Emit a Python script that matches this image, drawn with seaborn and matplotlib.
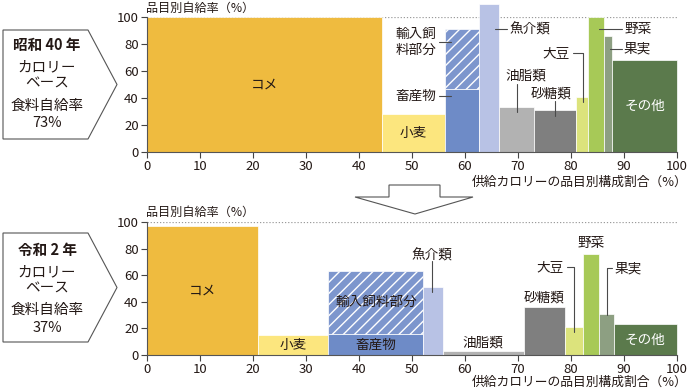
import numpy as np
import matplotlib
matplotlib.use("Agg")
import matplotlib.pyplot as plt
from matplotlib.patches import Polygon
import seaborn as sns

# ---------------- data ----------------
items = ['コメ', '小麦', '畜産物', '魚介類', '油脂類', '砂糖類', '大豆', '野菜', '果実', 'その他']

# share of supplied calories (%), bar widths
share_1965 = [44.3, 11.9, 6.4, 3.9, 6.6, 7.8, 2.4, 2.9, 1.6, 12.2]
# self-sufficiency by item (%), bar heights
rate_1965 = [100, 28, 47, 110, 33, 31, 41, 100, 86, 68]
livestock_total_1965 = 91  # incl. imported-feed part

share_2020 = [20.9, 13.3, 17.8, 3.8, 15.3, 7.7, 3.5, 2.9, 2.9, 11.9]
rate_2020 = [97, 15, 16, 51, 3, 36, 21, 76, 31, 23]
livestock_total_2020 = 63

colors = ['#EFBB3F', '#FCE67E', '#6E8BC7', '#B8C2E5', '#B2B2B2',
          '#7F7F7F', '#DCE37C', '#A7C957', '#8D9F82', '#5B7A4C']
feed_color = '#7D96CD'
txt = '#231815'
line_c = '#4a4a4a'

sns.set_theme(style="ticks")
plt.rcParams['font.family'] = ['Noto Sans CJK JP', 'DejaVu Sans']
plt.rcParams['hatch.linewidth'] = 1.0
plt.rcParams['hatch.color'] = 'white'

fig = plt.figure(figsize=(6.9, 3.91), dpi=100)
W, H = 690, 391


def draw_panel(ax, share, rate, livestock_total):
    left = np.concatenate([[0], np.cumsum(share)[:-1]])
    ax.axhline(100, color='#9a9a9a', ls=(0, (1, 1.5)), lw=0.9, zorder=0.5)
    ax.bar(left, rate, width=share, align='edge', color=colors,
           edgecolor='white', linewidth=0.5, zorder=2, clip_on=False)
    i = items.index('畜産物')
    ax.bar(left[i], livestock_total - rate[i], bottom=rate[i], width=share[i],
           align='edge', facecolor=feed_color, edgecolor='white', hatch='///',
           linewidth=0.5, zorder=2)
    ax.set_xlim(0, 100)
    ax.set_ylim(0, 100)
    ax.set_xticks(range(0, 101, 10))
    ax.set_yticks(range(0, 101, 20))
    ax.tick_params(labelsize=9.5, length=4, width=0.8, color='#444444',
                   labelcolor=txt, pad=2)
    sns.despine(ax=ax)
    for s in ['left', 'bottom']:
        ax.spines[s].set_color('#555555')
        ax.spines[s].set_linewidth(0.8)
    ax.set_facecolor('none')


def put_labels(ax, specs):
    for text, x, y, ha, c, lead in specs:
        ax.text(x, y, text, ha=ha, va='center', fontsize=9.8, color=c,
                zorder=5, linespacing=1.1)
        if lead:
            xs, ys = zip(*lead)
            ax.plot(xs, ys, color=line_c, lw=0.8, zorder=4, clip_on=False)


ax1 = fig.add_axes([147 / W, (H - 152) / H, 530 / W, 135 / H])
draw_panel(ax1, share_1965, rate_1965, livestock_total_1965)
put_labels(ax1, [
    ('コメ', 22.15, 50, 'center', txt, None),
    ('小麦', 50.2, 14, 'center', txt, None),
    ('輸入飼\n料部分', 54.6, 81.5, 'right', txt, [(55.1, 81.5), (57.3, 81.5)]),
    ('畜産物', 54.6, 41.5, 'right', txt, [(55.1, 41.5), (57.3, 41.5)]),
    ('魚介類', 68.3, 91, 'left', txt, [(65.6, 91), (67.9, 91)]),
    ('油脂類', 71.5, 57, 'center', txt, [(69.8, 50.5), (69.8, 29.5)]),
    ('砂糖類', 76.2, 43, 'center', txt, [(77.0, 37.5), (77.0, 27)]),
    ('大豆', 79.8, 73.3, 'right', txt, [(80.4, 73.3), (82.3, 73.3), (82.3, 37)]),
    ('野菜', 90.0, 91, 'left', txt, [(85.2, 91), (89.6, 91)]),
    ('果実', 90.0, 76.3, 'left', txt, [(87.4, 76.3), (89.6, 76.3)]),
    ('その他', 93.9, 34, 'center', 'white', None),
])

ax2 = fig.add_axes([147 / W, (H - 355) / H, 530 / W, 133 / H])
draw_panel(ax2, share_2020, rate_2020, livestock_total_2020)
put_labels(ax2, [
    ('コメ', 10.45, 48.5, 'center', txt, None),
    ('小麦', 27.55, 7.5, 'center', txt, None),
    ('畜産物', 43.1, 7.5, 'center', txt, None),
    ('輸入飼料部分', 43.2, 40, 'center', txt, None),
    ('魚介類', 53.8, 75, 'center', txt, [(53.8, 70.5), (53.8, 47)]),
    ('油脂類', 63.4, 9, 'center', txt, None),
    ('砂糖類', 74.9, 43, 'center', txt, None),
    ('大豆', 78.7, 66, 'right', txt, [(79.3, 66), (80.6, 66), (80.6, 17)]),
    ('野菜', 83.8, 84, 'center', txt, None),
    ('果実', 88.2, 65.4, 'left', txt, [(86.8, 30), (86.8, 65.4), (87.8, 65.4)]),
    ('その他', 94.0, 11.5, 'center', 'white', None),
])

# axis titles
for ytop, ybot in [(8, 182), (212, 382)]:
    fig.text(146 / W, 1 - ytop / H, '品目別自給率（%）', ha='left', va='center',
             fontsize=8.7, color=txt)
    fig.text(688 / W, 1 - ybot / H, '供給カロリーの品目別構成割合（%）',
             ha='right', va='center', fontsize=9.2, color=txt)

# overlay in pixel space for the boxes and the arrow
ov = fig.add_axes([0, 0, 1, 1])
ov.set_xlim(0, W)
ov.set_ylim(H, 0)
ov.axis('off')
ov.patch.set_visible(False)


def pentagon(y0, y1):
    ym = (y0 + y1) / 2
    pts = [(3, y0), (88, y0), (117, ym), (88, y1), (3, y1)]
    ov.add_patch(Polygon(pts, closed=True, facecolor='white',
                         edgecolor='#555555', lw=0.8))


pentagon(30, 139)
pentagon(233, 342)

box_lines = [
    (['昭和 40 年', 'カロリー', 'ベース', '食料自給率', '73%'], [45, 67, 84, 106, 123]),
    (['令和 2 年', 'カロリー', 'ベース', '食料自給率', '37%'], [250, 272, 289, 310, 328]),
]
for lines, ys in box_lines:
    for k, (s, y) in enumerate(zip(lines, ys)):
        ov.text(47, y, s, ha='center', va='center', fontsize=10.5, color=txt,
                fontweight='bold' if k == 0 else 'normal')

arrow = [(389, 185), (440, 185), (440, 197), (473, 197), (415, 214),
         (355, 197), (389, 197)]
ov.add_patch(Polygon(arrow, closed=True, facecolor='white',
                     edgecolor='#555555', lw=0.8))

fig.savefig('out.png', dpi=100)
